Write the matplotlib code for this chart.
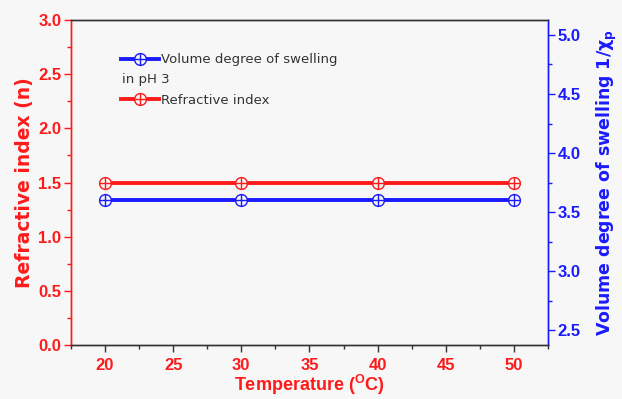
import matplotlib.pyplot as plt
from matplotlib.path import Path
from matplotlib.ticker import MultipleLocator

plt.rcParams['font.family'] = ['Liberation Sans', 'DejaVu Sans']

temperature = [20, 30, 40, 50]
refractive_index = [1.5, 1.5, 1.5, 1.5]
swelling = [3.6, 3.6, 3.6, 3.6]

bg = '#f7f7f7'
red = '#ff1a1a'
blue = '#1a1aff'

# circle with a cross inside
circ = Path.unit_circle()
cross = Path([(-1, 0), (1, 0), (0, -1), (0, 1)],
             [Path.MOVETO, Path.LINETO, Path.MOVETO, Path.LINETO])
oplus = Path.make_compound_path(circ, cross)

fig = plt.figure(figsize=(6.22, 3.99), dpi=100, facecolor=bg)
ax = fig.add_axes([0.114, 0.135, 0.767, 0.815], facecolor=bg)
ax2 = ax.twinx()

l1, = ax2.plot(temperature, swelling, color=blue, lw=2.8, marker=oplus,
               ms=8.5, mfc=bg, mec=blue, mew=1.0)
l2, = ax.plot(temperature, refractive_index, color=red, lw=2.8, marker=oplus,
              ms=8.5, mfc=bg, mec=red, mew=1.0)

ax.set_xlim(17.5, 52.5)
ax.set_ylim(0, 3.0)
ax2.set_ylim(2.373, 5.127)

ax.xaxis.set_major_locator(MultipleLocator(5))
ax.xaxis.set_minor_locator(MultipleLocator(2.5))
ax.yaxis.set_major_locator(MultipleLocator(0.5))
ax.yaxis.set_minor_locator(MultipleLocator(0.25))
ax2.yaxis.set_major_locator(MultipleLocator(0.5))
ax2.yaxis.set_minor_locator(MultipleLocator(0.25))

for a in (ax, ax2):
    for s in a.spines.values():
        s.set_linewidth(1.0)
        s.set_color('#333333')
    a.spines['left'].set_color(red)
    a.spines['right'].set_color(blue)

ax.tick_params(axis='x', which='major', length=5, width=1, colors='#333333',
               labelcolor=red, labelsize=12, pad=4)
ax.tick_params(axis='x', which='minor', length=3, width=1, colors='#333333')
ax.tick_params(axis='y', which='major', length=5, width=1, colors=red,
               labelsize=12, pad=2)
ax.tick_params(axis='y', which='minor', length=3, width=1, colors=red)
ax2.tick_params(axis='y', which='major', length=5, width=1, colors=blue,
                labelsize=12, pad=2)
ax2.tick_params(axis='y', which='minor', length=3, width=1, colors=blue)

for lab in ax.get_xticklabels() + ax.get_yticklabels() + ax2.get_yticklabels():
    lab.set_fontweight('bold')

ax.set_xlabel('Temperature ($^{\\mathregular{O}}$C)', color=red, fontsize=13,
              fontweight='bold', labelpad=0)
ax.set_ylabel('Refractive index (n)', color=red, fontsize=13.5,
              fontweight='bold', labelpad=3, family='DejaVu Sans')
ax2.set_ylabel('Volume degree of swelling 1/$\\mathregular{\\chi_p}$', color=blue,
               fontsize=12.5, fontweight='bold', labelpad=10, family='DejaVu Sans')

leg = ax.legend([l1, l2], ['Volume degree of swelling', 'Refractive index'],
                loc='upper left', bbox_to_anchor=(0.105, 0.898), frameon=False,
                handlelength=2.9, handletextpad=0.15, labelspacing=2.1,
                borderpad=0, borderaxespad=0,
                prop={'family': 'DejaVu Sans', 'size': 9.5})
for t in leg.get_texts():
    t.set_color('#333333')
ax.text(0.107, 0.816, 'in pH 3', transform=ax.transAxes, fontsize=9.5,
        family='DejaVu Sans', color='#333333', va='center', ha='left')

fig.savefig('out.png', dpi=100, facecolor=bg)
